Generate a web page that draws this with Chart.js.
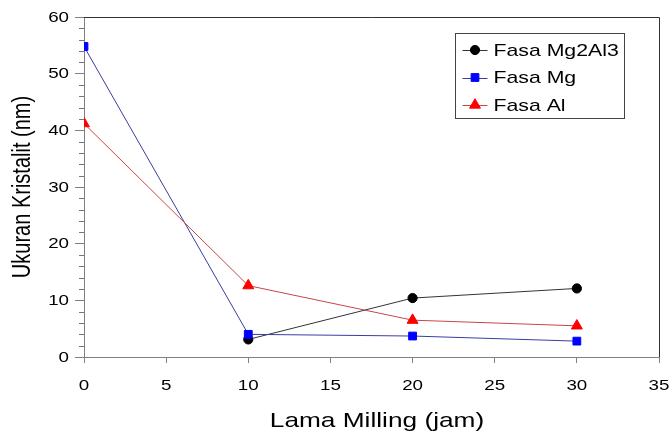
<!DOCTYPE html>
<html>
<head>
<meta charset="utf-8">
<script src="https://cdn.jsdelivr.net/npm/chart.js@4.4.1/dist/chart.umd.min.js"></script>
<style>
  html, body { margin: 0; padding: 0; background: #fff; }
  #wrap { width: 669px; height: 435px; position: relative; }
</style>
</head>
<body>
<div id="wrap"><canvas id="chart"></canvas></div>
<script>
// data
const lamaMilling = [0, 10, 20, 30];
const fasaMg2Al3 = [null, 3.1, 10.4, 12.1];
const fasaMg = [54.8, 4.0, 3.7, 2.8];
const fasaAl = [41.2, 12.6, 6.5, 5.5];
const xTicks = [0, 5, 10, 15, 20, 25, 30, 35];
const yTicks = [0, 10, 20, 30, 40, 50, 60];
const xTitle = 'Lama Milling (jam)';
const yTitle = 'Ukuran Kristalit (nm)';

const FONT = "'Liberation Sans', Arial, sans-serif";
const STRETCH = 1.25; // text in the original is drawn wide

const toPoints = (vals) => lamaMilling
    .map((x, i) => ({ x: x, y: vals[i] }))
    .filter(p => p.y !== null);

function wideText(ctx, text, x, y, align, base) {
    ctx.save();
    ctx.translate(x, y);
    ctx.scale(STRETCH, 1);
    ctx.textAlign = align;
    ctx.textBaseline = base;
    ctx.fillText(text, 0, 0);
    ctx.restore();
}

// frame + minor y ticks
const framePlugin = {
    id: 'frame',
    beforeDatasetsDraw(chart) {
        const { ctx, chartArea: a, scales } = chart;
        ctx.save();
        ctx.strokeStyle = '#333';
        ctx.lineWidth = 1;
        ctx.beginPath();
        ctx.moveTo(a.left, a.top + 0.5);
        ctx.lineTo(a.right + 0.5, a.top + 0.5);
        ctx.lineTo(a.right + 0.5, a.bottom);
        ctx.stroke();

        // minor ticks every 2 on y
        ctx.strokeStyle = '#777';
        ctx.beginPath();
        for (let v = 0; v <= 60; v += 2) {
            if (v % 10 === 0) continue;
            const y = Math.round(scales.y.getPixelForValue(v)) + 0.5;
            ctx.moveTo(a.left - 5, y);
            ctx.lineTo(a.left, y);
        }
        ctx.stroke();
        ctx.restore();
    }
};

// tick labels and axis titles, widened like the original
const textPlugin = {
    id: 'wideLabels',
    afterDraw(chart) {
        const { ctx, chartArea: a, scales } = chart;
        ctx.save();
        ctx.fillStyle = '#000';
        ctx.font = '15px ' + FONT;
        scales.x.ticks.forEach(t => {
            wideText(ctx, String(t.value), scales.x.getPixelForValue(t.value), 390, 'center', 'alphabetic');
        });
        scales.y.ticks.forEach(t => {
            wideText(ctx, String(t.value), 69, scales.y.getPixelForValue(t.value) + 0.5, 'right', 'middle');
        });

        ctx.font = '21px ' + FONT;
        wideText(ctx, xTitle, 377, 427, 'center', 'alphabetic');

        ctx.font = '20px ' + FONT;
        ctx.save();
        ctx.translate(23, (a.top + a.bottom) / 2);
        ctx.scale(STRETCH, 1);
        ctx.rotate(-Math.PI / 2);
        ctx.textAlign = 'center';
        ctx.textBaseline = 'middle';
        ctx.fillText(yTitle, 0, 0);
        ctx.restore();
        ctx.restore();
    }
};

// legend box drawn inside the plot
const legendPlugin = {
    id: 'boxLegend',
    afterDraw(chart) {
        const { ctx } = chart;
        const x0 = 455.5, y0 = 33.5, w = 169, h = 85;
        ctx.save();
        ctx.fillStyle = '#fff';
        ctx.fillRect(x0, y0, w, h);
        ctx.strokeStyle = '#444';
        ctx.lineWidth = 1;
        ctx.strokeRect(x0, y0, w, h);
        ctx.font = '17px ' + FONT;
        chart.data.datasets.forEach((d, i) => {
            const cy = y0 + 16.5 + i * 27.5;
            const lx = x0 + 7, rx = x0 + 32;
            ctx.strokeStyle = d.borderColor;
            ctx.lineWidth = 1;
            ctx.beginPath();
            ctx.moveTo(lx, Math.round(cy) + 0.5);
            ctx.lineTo(rx, Math.round(cy) + 0.5);
            ctx.stroke();
            ctx.fillStyle = d.pointBackgroundColor;
            ctx.strokeStyle = d.pointBorderColor;
            Chart.helpers.drawPoint(ctx, {
                pointStyle: d.pointStyle,
                radius: d.pointRadius,
                rotation: 0,
                borderWidth: 1
            }, (lx + rx) / 2, cy);
            ctx.fillStyle = '#000';
            wideText(ctx, d.label, x0 + 38, cy + 1, 'left', 'middle');
        });
        ctx.restore();
    }
};

new Chart(document.getElementById('chart'), {
    type: 'line',
    data: {
        datasets: [
            {
                label: 'Fasa Mg2Al3',
                data: toPoints(fasaMg2Al3),
                borderColor: '#333333',
                borderWidth: 1,
                pointStyle: 'circle',
                pointRadius: 4.6,
                pointBackgroundColor: '#000000',
                pointBorderColor: '#000000',
                order: 3
            },
            {
                label: 'Fasa Mg',
                data: toPoints(fasaMg),
                borderColor: '#3c3ca0',
                borderWidth: 1,
                pointStyle: 'rect',
                pointRadius: 5.5,
                pointBackgroundColor: '#0000ff',
                pointBorderColor: '#0000ff',
                order: 2
            },
            {
                label: 'Fasa Al',
                data: toPoints(fasaAl),
                borderColor: '#c84646',
                borderWidth: 1,
                pointStyle: 'triangle',
                pointRadius: 6.3,
                pointBackgroundColor: '#ff0000',
                pointBorderColor: '#ff0000',
                order: 1
            }
        ]
    },
    options: {
        responsive: true,
        maintainAspectRatio: false,
        animation: false,
        layout: { padding: { left: 0, top: 17, right: 10, bottom: 0 } },
        plugins: {
            legend: { display: false },
            tooltip: { enabled: false }
        },
        scales: {
            x: {
                type: 'linear',
                min: 0,
                max: 35,
                afterBuildTicks: (s) => { s.ticks = xTicks.map(v => ({ value: v })); },
                afterFit: (s) => { s.height = 78; },
                border: { display: true, color: '#808080', width: 1 },
                grid: { drawOnChartArea: false, drawTicks: true, tickLength: 6, color: '#808080' },
                ticks: { display: false },
                title: { display: false }
            },
            y: {
                type: 'linear',
                min: 0,
                max: 60,
                afterBuildTicks: (s) => { s.ticks = yTicks.map(v => ({ value: v })); },
                afterFit: (s) => { s.width = 84; },
                border: { display: true, color: '#808080', width: 1 },
                grid: { drawOnChartArea: false, drawTicks: true, tickLength: 9, color: '#808080' },
                ticks: { display: false },
                title: { display: false }
            }
        }
    },
    plugins: [framePlugin, textPlugin, legendPlugin]
});
</script>
</body>
</html>
